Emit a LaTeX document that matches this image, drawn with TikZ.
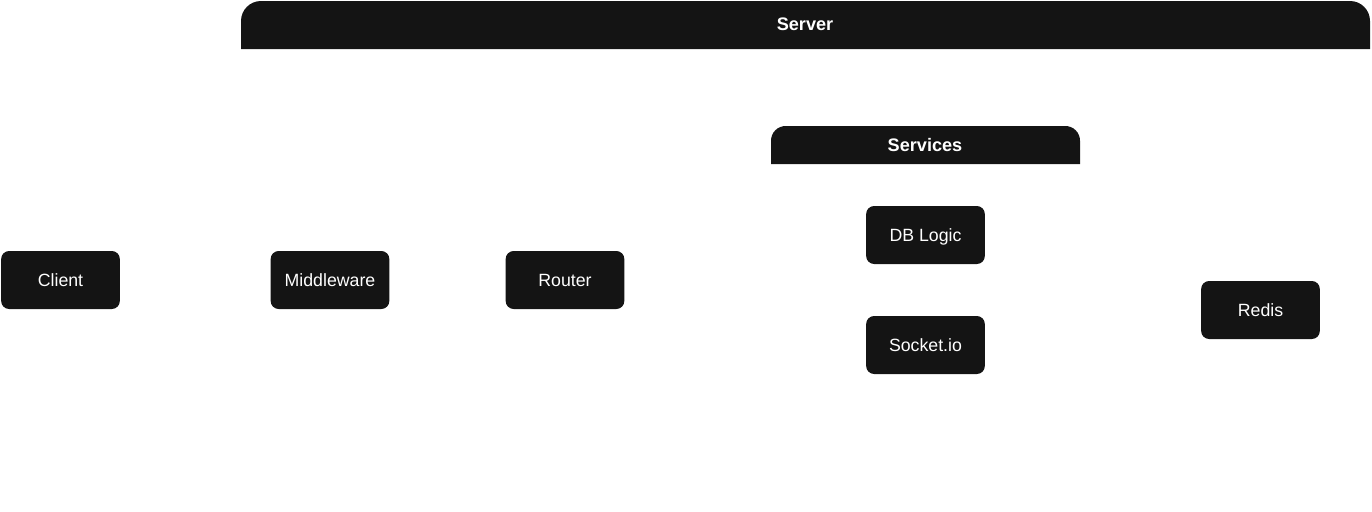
\documentclass[tikz,border=0pt]{standalone}
\usepackage{fontspec}
\setmainfont{Liberation Sans}
\usetikzlibrary{positioning}
\definecolor{boxbg}{HTML}{141414}
\tikzstyle{block} = [rectangle, rounded corners=6pt, fill=boxbg, text=white,
	minimum width=89pt, minimum height=43.5pt, inner sep=0pt,
	text height=0.95em, text depth=0pt,
	font=\fontsize{13.3}{15}\selectfont]
\tikzstyle{header} = [text=white, inner sep=0pt, font=\fontsize{13.6}{15}\selectfont\bfseries]
\tikzstyle{headbar} = [fill=boxbg]

\begin{document}
\begin{tikzpicture}[x=0.75pt, y=-0.75pt]
	\useasboundingbox (0,0) rectangle (1372,511);

	% set up header bars
	\fill[headbar] (241,49) [rounded corners=15pt] -- (241,1) -- (1370,1) [sharp corners] -- (1370,49) -- cycle;
	\node (server) [header] at (805,24) {Server};
	\fill[headbar] (771,164) [rounded corners=11pt] -- (771,126) -- (1080,126) [sharp corners] -- (1080,164) -- cycle;
	\node (services) [header] at (925,145) {Services};

	% set up nodes
	\node (client) [block] at (60.5,280) {Client};
	\node (middleware) [block] at (330,280) {Middleware};
	\node (router) [block] at (565,280) {Router};
	\node (dblogic) [block] at (925.5,235) {DB Logic};
	\node (socketio) [block] at (925.5,345) {Socket.io};
	\node (redis) [block] at (1260.5,310) {Redis};

\end{tikzpicture}
\end{document}
